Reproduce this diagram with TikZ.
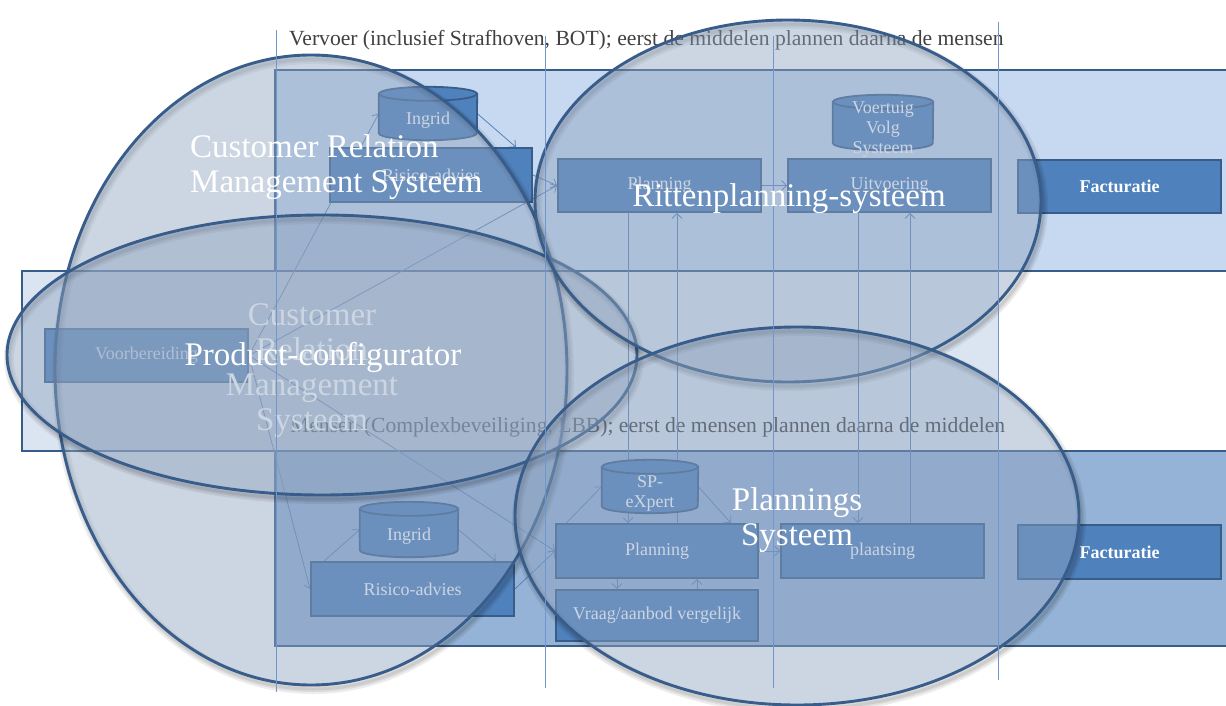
\documentclass[tikz,border=0pt]{standalone}
\usepackage{fontspec}
\setmainfont{Liberation Serif}
\usetikzlibrary{arrows.meta}

\definecolor{lanetop}{HTML}{C6D9F1}
\definecolor{lanemid}{HTML}{DBE5F1}
\definecolor{lanebot}{HTML}{95B3D7}
\definecolor{edgeblue}{HTML}{385D8A}
\definecolor{boxblue}{HTML}{4F81BD}
\definecolor{wireblue}{HTML}{5A82B8}
\definecolor{gridblue}{HTML}{7096CC}
\definecolor{zonegrey}{HTML}{8FA3BF}
\definecolor{titlegrey}{HTML}{404040}

\pgfdeclarelayer{lanes}
\pgfdeclarelayer{wires}
\pgfdeclarelayer{zones}
\pgfdeclarelayer{zonetext}
\pgfsetlayers{lanes,wires,main,zones,zonetext}

\tikzset{
  lane/.style={draw=edgeblue, line width=2.2pt},
  procbox/.style={draw=edgeblue, fill=boxblue, line width=1.8pt, text=white,
    font=\fontsize{18}{20}\selectfont, minimum width=203pt, minimum height=54pt,
    inner sep=0pt},
  storebox/.style={inner sep=0pt},
  storeshape/.style={draw=edgeblue, fill=boxblue, line width=1.8pt},
  storetext/.style={text=white, font=\fontsize{18}{20}\selectfont, align=center, inner sep=0pt},
  conn/.style={draw=wireblue, line width=0.8pt, -{Straight Barb[length=5pt,width=10pt]}},
  colline/.style={draw=gridblue, line width=1pt},
  zonefill/.style={fill=zonegrey, fill opacity=0.45, draw=edgeblue, line width=2.9pt},
  zoneshadow/.style={draw=black, draw opacity=0.07, line width=#1},
  zonelabel/.style={text=white, font=\fontsize{33}{35}\selectfont, align=center, inner sep=0pt},
  ghostlabel/.style={text=white, font=\fontsize{33}{35}\selectfont, align=center, inner sep=0pt},
  lanetitle/.style={text=titlegrey, font=\fontsize{21.6}{24}\selectfont, anchor=west, inner sep=0pt},
}

% data store drawn as a cylinder: name, centre x, centre y, width, height, text
\newcommand\datastore[6]{%
  \node[storebox, minimum width=#4pt, minimum height=#5pt] (#1) at (#2,#3) {};
  \filldraw[storeshape] ([yshift=-7pt]#1.north west) -- ([yshift=7pt]#1.south west)
    arc[start angle=180, end angle=360, x radius=#4pt/2, y radius=7pt]
    -- ([yshift=-7pt]#1.north east) -- cycle;
  \filldraw[storeshape] ([yshift=-7pt]#1.north) ellipse[x radius=#4pt/2, y radius=7pt];
  \node[storetext] (#1-text) at ([yshift=-7pt]#1.center) {#6};
}

% system boundary with a soft shadow: centre x, centre y, x radius, y radius
\newcommand\zone[4]{%
  \foreach \w in {10pt,6pt,3pt}
    \draw[zoneshadow=\w] (#1+2,#2+4) ellipse [x radius=#3, y radius=#4];
  \draw[zonefill] (#1,#2) ellipse [x radius=#3, y radius=#4];
}

\begin{document}
\begin{tikzpicture}[x=1pt,y=-1pt]
\useasboundingbox (0,0) rectangle (1226,706);
\clip (0,0) rectangle (1226,706);

% swim lanes and their titles
\begin{pgfonlayer}{lanes}
  \filldraw[lane, fill=lanetop] (275,70) rectangle (1240,271);
  \fill[lanemid] (22,271) rectangle (999,451);
  \draw[lane] (999,271) -- (22,271) -- (22,451) -- (999,451);
  \filldraw[lane, fill=lanebot] (275,451) rectangle (1240,646);
  \node[lanetitle] (vervoer) at (289,40)
    {Vervoer (inclusief Strafhoven, BOT); eerst de middelen plannen daarna de mensen};
  \node[lanetitle] (mensen) at (290,427)
    {Mensen (Complexbeveiliging, LBB); eerst de mensen plannen daarna de middelen};
\end{pgfonlayer}

% process steps
\node[procbox, minimum width=202pt] (risk1) at (431,175) {Risico-advies};
\node[procbox, minimum height=53pt] (plan1) at (659.5,185.5) {Planning};
\node[procbox, minimum height=53pt] (uitv1) at (889.5,185.5) {Uitvoering};
\node[procbox, minimum height=53pt, font=\fontsize{18}{20}\selectfont\bfseries] (fact1) at (1119.5,186.5) {Facturatie};
\node[procbox, minimum height=53pt] (prep) at (146.5,355.5) {Voorbereiding};
\node[procbox] (risk2) at (412.5,589) {Risico-advies};
\node[procbox, minimum width=202pt] (plan2) at (657,551) {Planning};
\node[procbox, minimum width=202pt, minimum height=51pt] (vraag) at (657,615.5) {Vraag/aanbod vergelijk};
\node[procbox] (plaats) at (882.5,551) {plaatsing};
\node[procbox, font=\fontsize{18}{20}\selectfont\bfseries] (fact2) at (1119.5,552) {Facturatie};

% data stores
\datastore{ingrid1}{428}{113.5}{98}{53}{Ingrid}
\datastore{vvs}{883}{122.5}{100}{55}{Voertuig\\Volg\\Systeem}
\datastore{ingrid2}{409}{529.5}{98}{55}{Ingrid}
\datastore{spx}{650}{486.5}{96}{53}{SP-\\eXpert}

% flows
\begin{pgfonlayer}{wires}
  \draw[conn] (ingrid1.east) -- ([xshift=-17pt]risk1.north east);
  \draw[conn] (risk1.east) -- (plan1.west);
  \draw[conn] (plan1.east) -- (uitv1.west);
  \draw[conn] (prep.east) -- (ingrid1.west);
  \draw[conn] (prep.east) -- (plan1.west);
  \draw[conn] (prep.east) -- (risk2.west);
  \draw[conn] (prep.east) -- (plan2.west);
  \draw[conn] ([xshift=14pt]risk2.north west) -- (ingrid2.west);
  \draw[conn] (ingrid2.east) -- ([xshift=-19pt]risk2.north east);
  \draw[conn] (risk2.east) -- (plan2.west);
  \draw[conn] ([xshift=11pt]plan2.north west) -- (spx.west);
  \draw[conn] (spx.east) -- ([xshift=-28pt]plan2.north east);
  \draw[conn] ([xshift=-40pt]plan2.south) -- ([xshift=-40pt]plan2.south |- vraag.north);
  \draw[conn] ([xshift=40pt]vraag.north) -- ([xshift=40pt]vraag.north |- plan2.south);
  \draw[conn] (plan2.east) -- (plaats.west);
  \draw[conn] ([xshift=-31.5pt]plan1.south) -- ([xshift=-31.5pt]plan1.south |- plan2.north);
  \draw[conn] ([xshift=17.5pt]plan1.south |- plan2.north) -- ([xshift=17.5pt]plan1.south);
  \draw[conn] ([xshift=-31.5pt]uitv1.south) -- ([xshift=-31.5pt]uitv1.south |- plaats.north);
  \draw[conn] ([xshift=20.5pt]uitv1.south |- plaats.north) -- ([xshift=20.5pt]uitv1.south);
\end{pgfonlayer}

% system boundaries
\begin{pgfonlayer}{zones}
  \zone{311}{370}{256}{315}
  \node[ghostlabel] (crmghost) at (312,370.5) {Customer\\Relation\\Management\\Systeem};
  \zone{322}{355}{315}{140}
  \zone{788}{201}{253}{181}
  \zone{797}{516}{282}{189}
  % phase separators
  \draw[colline] (276,30) -- (276,692);
  \draw[colline] (545,36) -- (545,688);
  \draw[colline] (773,36) -- (773,688);
  \draw[colline] (998,22) -- (998,680);
\end{pgfonlayer}

\begin{pgfonlayer}{zonetext}
  \node[zonelabel, align=left, anchor=west] (crmlabel) at (190,167)
    {Customer Relation\\Management Systeem};
  \node[zonelabel] (pclabel) at (323,357) {Product-configurator};
  \node[zonelabel] (rplabel) at (789,199) {Rittenplanning-systeem};
  \node[zonelabel] (pslabel) at (797,520) {Plannings\\Systeem};
\end{pgfonlayer}
\end{tikzpicture}
\end{document}
